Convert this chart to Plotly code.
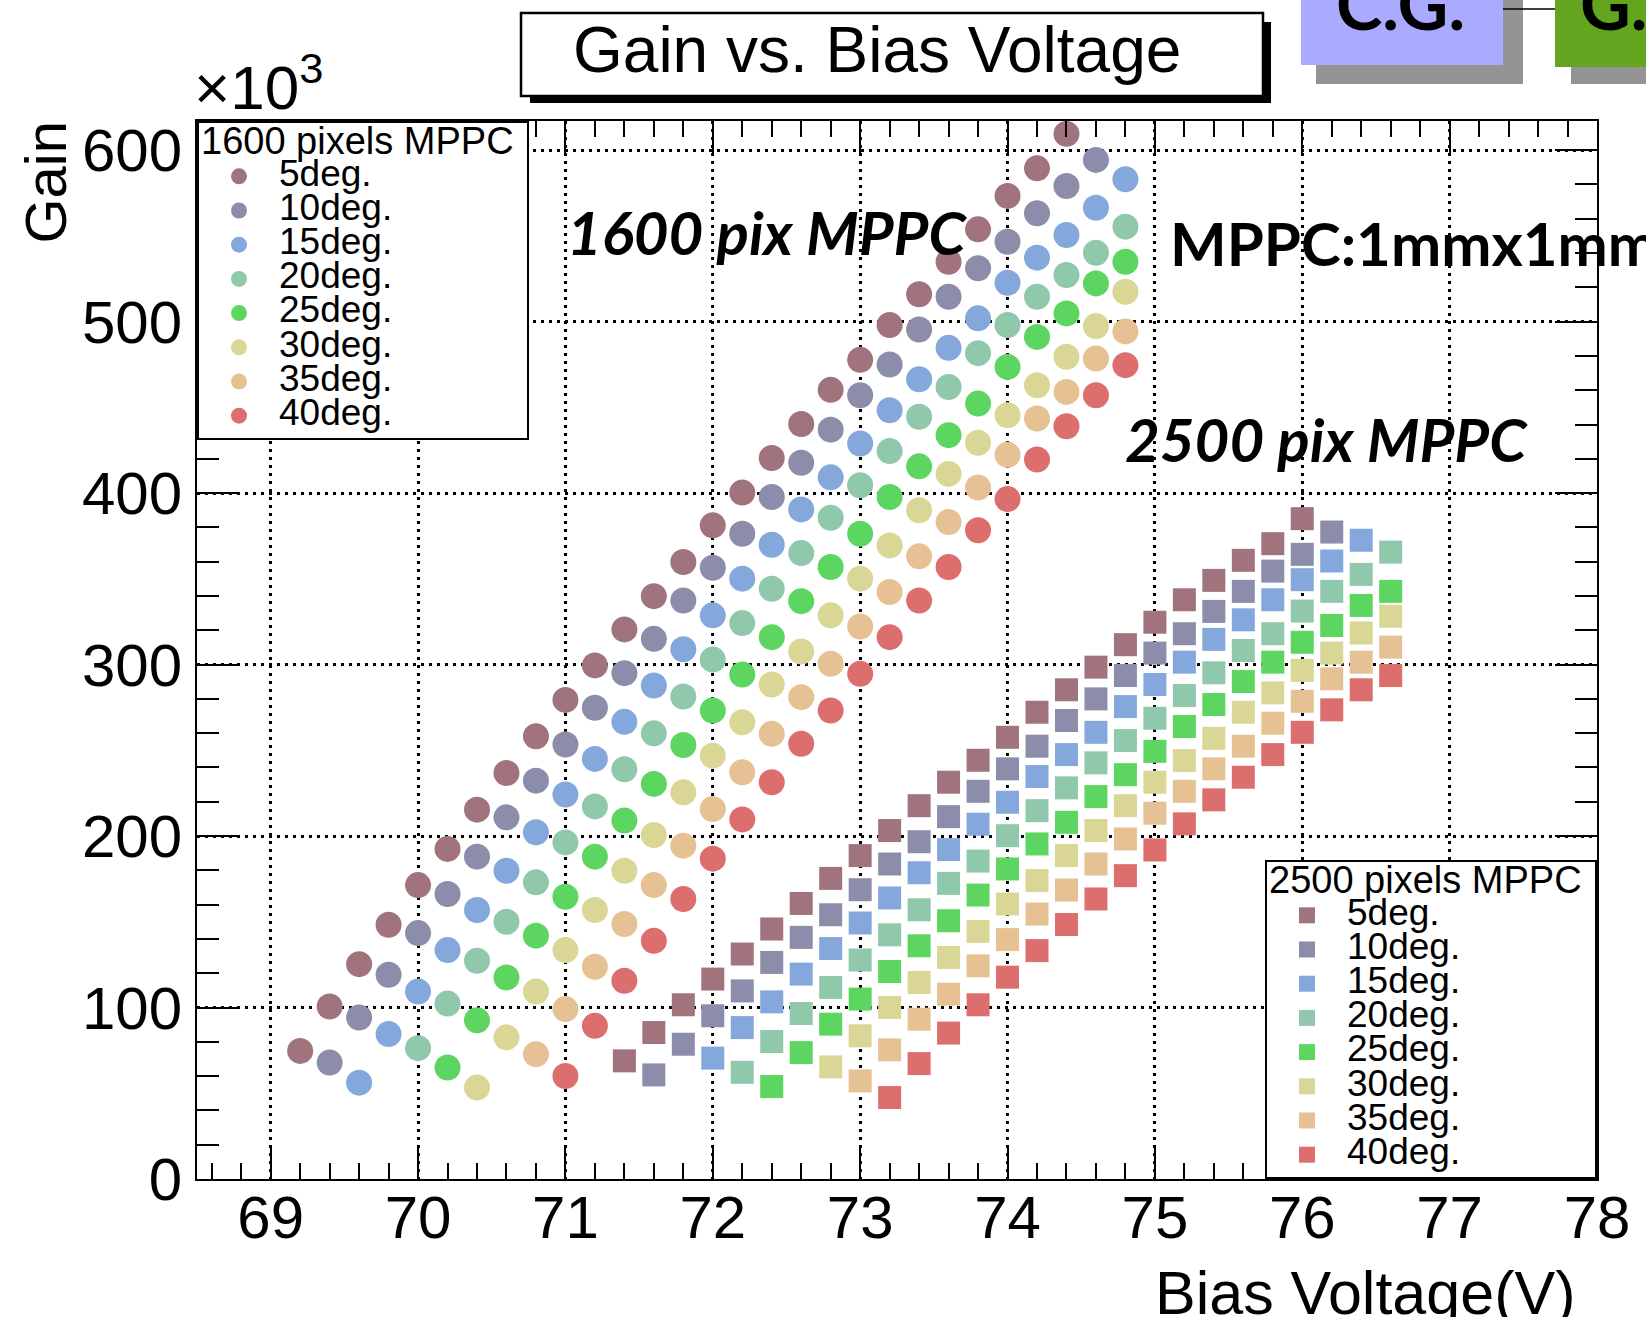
import plotly.graph_objects as go

# ---------------- data (gain in units of 10^3) ----------------
VOLTAGES = [69.2, 69.4, 69.6, 69.8, 70.0, 70.2, 70.4, 70.6, 70.8, 71.0,
            71.2, 71.4, 71.6, 71.8, 72.0, 72.2, 72.4, 72.6, 72.8, 73.0,
            73.2, 73.4, 73.6, 73.8, 74.0, 74.2, 74.4, 74.6, 74.8, 75.0,
            75.2, 75.4, 75.6, 75.8, 76.0, 76.2, 76.4, 76.6]

ANGLES = ["5deg.", "10deg.", "15deg.", "20deg.", "25deg.", "30deg.", "35deg.", "40deg."]
COLORS = ["#a0737d", "#8c8cab", "#84a8dc", "#90c8ac", "#5cd660", "#dad696", "#e6c193", "#dc6e6e"]

# 1600 pixel MPPC: first bias voltage of each scan, and gains
START_1600 = [69.2, 69.4, 69.6, 70.0, 70.2, 70.4, 70.8, 71.0]
GAIN_1600_5 = [74.7, 100.6, 125.3, 148.3, 171.4, 192.5, 215.4, 236.8, 258.2, 279.4, 299.5, 320.5, 339.9, 359.8,
               381.2, 400.3, 420.5, 440.3, 460.2, 477.7, 498.0, 516.0, 534.9, 553.8, 573.3, 589.4, 609.5]
GAIN_1600_10 = [67.9, 94.2, 119.1, 143.4, 166.2, 188.0, 210.9, 232.3, 253.4, 274.8, 295.0, 315.0, 337.4, 356.5,
                376.3, 397.7, 417.7, 437.0, 457.1, 475.0, 495.4, 514.5, 531.1, 546.6, 563.2, 579.1, 594.3]
GAIN_1600_15 = [56.2, 84.5, 109.3, 133.5, 156.9, 179.8, 202.2, 224.2, 245.0, 266.6, 287.8, 308.9, 328.7, 350.1,
                369.9, 390.5, 409.2, 428.9, 448.3, 466.4, 484.7, 501.9, 522.7, 537.3, 550.5, 566.4, 583.0]
GAIN_1600_20 = [76.3, 102.3, 127.3, 150.0, 173.0, 196.3, 217.3, 238.9, 259.9, 281.4, 302.9, 324.2, 344.2, 365.0,
                385.6, 404.6, 424.5, 444.5, 461.9, 481.6, 498.0, 514.5, 527.2, 540.2, 555.4]
GAIN_1600_25 = [65.0, 92.6, 117.5, 141.9, 164.6, 188.0, 209.0, 230.4, 253.1, 273.2, 294.2, 316.0, 337.0, 356.9,
                376.3, 397.7, 415.6, 433.8, 452.2, 473.6, 491.1, 504.8, 522.3, 534.9]
GAIN_1600_30 = [53.3, 82.6, 109.3, 133.5, 156.9, 179.8, 200.6, 225.5, 246.9, 266.4, 288.4, 307.6, 328.7, 350.1,
                369.5, 390.0, 411.2, 429.4, 445.4, 462.9, 479.5, 497.4, 517.4]
GAIN_1600_35 = [72.8, 99.1, 123.8, 148.7, 171.4, 194.4, 215.8, 237.2, 259.6, 281.0, 300.5, 322.2, 342.3, 363.1,
                383.1, 403.3, 422.3, 443.5, 459.0, 478.5, 494.3]
GAIN_1600_40 = [60.1, 89.3, 115.6, 138.9, 163.3, 186.8, 209.7, 231.4, 253.8, 273.2, 294.6, 316.0, 337.4, 356.9,
                378.3, 396.5, 419.6, 439.0, 457.1, 474.6]

# 2500 pixel MPPC
START_2500 = [71.4, 71.6, 72.0, 72.2, 72.4, 72.8, 73.0, 73.2]
GAIN_2500_5 = [68.9, 85.4, 101.6, 116.6, 131.2, 145.8, 160.7, 175.3, 188.6, 203.2, 217.7, 231.4, 244.2, 257.6,
               272.2, 285.3, 298.5, 311.6, 324.7, 337.8, 349.1, 360.8, 370.5, 385.1]
GAIN_2500_10 = [60.7, 78.6, 95.2, 109.7, 126.3, 140.9, 154.1, 168.7, 183.7, 196.7, 211.3, 226.1, 239.2, 252.4,
                267.4, 280.0, 293.6, 306.7, 318.0, 331.0, 342.7, 354.5, 364.3, 377.3]
GAIN_2500_15 = [70.5, 88.3, 103.3, 119.5, 134.4, 149.3, 163.9, 178.6, 192.1, 206.9, 219.7, 234.7, 247.5, 260.5,
                275.5, 288.4, 301.4, 314.7, 326.1, 337.8, 349.5, 360.4, 372.5]
GAIN_2500_20 = [62.2, 80.2, 96.5, 111.7, 127.7, 142.4, 157.0, 172.4, 185.4, 200.2, 214.8, 228.1, 242.7, 255.7,
                268.7, 282.0, 295.2, 308.2, 318.0, 331.2, 342.7, 352.6, 365.6]
GAIN_2500_25 = [53.9, 73.7, 90.3, 104.9, 121.0, 136.0, 150.6, 165.6, 180.8, 195.4, 208.0, 223.0, 235.8, 249.4,
                263.9, 276.7, 290.1, 301.4, 313.0, 322.8, 334.5, 342.7]
GAIN_2500_30 = [65.4, 83.5, 100.0, 114.6, 129.2, 144.4, 160.4, 174.0, 188.6, 203.2, 217.7, 231.4, 244.0, 257.0,
                272.2, 283.5, 296.6, 306.7, 318.4, 328.2]
GAIN_2500_35 = [57.2, 75.3, 93.2, 107.8, 124.3, 139.6, 154.5, 168.5, 183.7, 198.3, 213.3, 226.1, 239.2, 252.4,
                265.8, 278.6, 291.7, 301.4, 310.2]
GAIN_2500_40 = [47.5, 67.3, 85.1, 101.6, 117.7, 133.2, 148.4, 163.3, 176.9, 191.9, 207.1, 221.1, 234.3, 247.5,
                260.5, 273.6, 285.3, 293.6]

GAINS_1600 = [GAIN_1600_5, GAIN_1600_10, GAIN_1600_15, GAIN_1600_20,
              GAIN_1600_25, GAIN_1600_30, GAIN_1600_35, GAIN_1600_40]
GAINS_2500 = [GAIN_2500_5, GAIN_2500_10, GAIN_2500_15, GAIN_2500_20,
              GAIN_2500_25, GAIN_2500_30, GAIN_2500_35, GAIN_2500_40]

X_TICKS = [69, 70, 71, 72, 73, 74, 75, 76, 77, 78]
Y_TICKS = [0, 100, 200, 300, 400, 500, 600]


def volts_for(start, n):
    i = VOLTAGES.index(start)
    return VOLTAGES[i:i + n]


# ---------------- layout helpers (pixel -> paper) ----------------
W, H = 1646, 1317
PL, PR, PT, PB = 197, 1597, 121, 1179


def px(X):
    return (X - PL) / (PR - PL)


def py(Y):
    return (PB - Y) / (PB - PT)


FONT = "Liberation Sans, Arial, sans-serif"
BOLDFONT = "Lato, Open Sans, sans-serif"
LEG_SPAN = "<span style='font-size:37px'>%s</span>"
LEG_TITLE = "<span style='font-size:38px'>%s&nbsp;</span>"

fig = go.Figure()

for name, col, start, g in zip(ANGLES, COLORS, START_1600, GAINS_1600):
    fig.add_trace(go.Scatter(
        x=volts_for(start, len(g)), y=g, mode="markers", name=LEG_SPAN % name,
        marker=dict(symbol="circle", size=26, color=col, line=dict(width=0)),
        legend="legend"))

for name, col, start, g in zip(ANGLES, COLORS, START_2500, GAINS_2500):
    fig.add_trace(go.Scatter(
        x=volts_for(start, len(g)), y=g, mode="markers", name=LEG_SPAN % name,
        marker=dict(symbol="square", size=23, color=col, line=dict(width=0)),
        legend="legend2"))

axis_common = dict(
    showline=True, linecolor="black", linewidth=2, mirror="ticks",
    ticks="inside", tickcolor="black", tickwidth=2,
    showgrid=True, gridcolor="black", gridwidth=2.6, griddash="3px,5px",
    zeroline=False, tickfont=dict(family=FONT, size=60, color="black"),
)

fig.update_xaxes(range=[68.5, 78.0], tickvals=X_TICKS, ticktext=[str(v) for v in X_TICKS],
                 ticklen=33, ticklabelstandoff=-15,
                 minor=dict(dtick=0.2, tick0=69, ticks="inside", ticklen=16, tickwidth=2,
                            tickcolor="black", showgrid=False),
                 **axis_common)
fig.update_yaxes(range=[0, 617], tickvals=Y_TICKS, ticktext=[str(v) for v in Y_TICKS],
                 ticklen=42, ticklabelstandoff=1,
                 minor=dict(dtick=20, tick0=0, ticks="inside", ticklen=22, tickwidth=2,
                            tickcolor="black", showgrid=False),
                 **axis_common)

legend_common = dict(bgcolor="white", bordercolor="black", borderwidth=2,
                     font=dict(family=FONT, size=24, color="black"),
                     itemwidth=70, itemsizing="trace", tracegroupgap=0)

fig.update_layout(
    width=W, height=H,
    margin=dict(l=PL, r=W - PR, t=PT, b=H - PB),
    paper_bgcolor="white", plot_bgcolor="white",
    showlegend=True,
    legend=dict(x=0, y=1, xanchor="left", yanchor="top",
                title=dict(text=LEG_TITLE % "1600 pixels MPPC", font=dict(family=FONT, size=24)),
                **legend_common),
    legend2=dict(x=1, y=0, xanchor="right", yanchor="bottom",
                 title=dict(text=LEG_TITLE % "2500 pixels MPPC", font=dict(family=FONT, size=24)),
                 **legend_common),
)

shapes = [
    # title box with shadow
    dict(type="rect", xref="paper", yref="paper", x0=px(530), x1=px(1271), y0=py(103), y1=py(22),
         fillcolor="black", line=dict(width=0)),
    dict(type="rect", xref="paper", yref="paper", x0=px(521), x1=px(1263), y0=py(96), y1=py(13),
         fillcolor="white", line=dict(color="black", width=2.5)),
    # C.G. box
    dict(type="rect", xref="paper", yref="paper", x0=px(1316), x1=px(1523), y0=py(84), y1=py(-20),
         fillcolor="#949494", line=dict(width=0)),
    dict(type="rect", xref="paper", yref="paper", x0=px(1301), x1=px(1503), y0=py(65), y1=py(-20),
         fillcolor="#aaaaff", line=dict(width=0)),
    dict(type="line", xref="paper", yref="paper", x0=px(1503), x1=px(1555), y0=py(9), y1=py(9),
         line=dict(color="black", width=1.5)),
    # G. box
    dict(type="rect", xref="paper", yref="paper", x0=px(1571), x1=px(1700), y0=py(84), y1=py(-20),
         fillcolor="#949494", line=dict(width=0)),
    dict(type="rect", xref="paper", yref="paper", x0=px(1555), x1=px(1700), y0=py(67), y1=py(-20),
         fillcolor="#64a520", line=dict(width=0)),
]
fig.update_layout(shapes=shapes)

ann = [
    dict(text="Gain vs. Bias Voltage", x=px(877), y=py(50), xanchor="center", yanchor="middle",
         font=dict(family=FONT, size=64, color="black")),
    dict(text="×10<sup>3</sup>", x=px(192), y=py(124), xanchor="left", yanchor="bottom",
         font=dict(family=FONT, size=62, color="black")),
    dict(text="Gain", textangle=-90, x=px(45), y=py(119), xanchor="center", yanchor="top",
         font=dict(family=FONT, size=58, color="black")),
    dict(text="Bias Voltage(V)", x=px(1577), y=py(1293), xanchor="right", yanchor="middle",
         font=dict(family=FONT, size=61, color="black")),
    dict(text="<b><i>1600 pix MPPC</i></b>", x=px(767), y=py(232), xanchor="center", yanchor="middle",
         font=dict(family=BOLDFONT, size=60, color="black")),
    dict(text="<b><i>2500 pix MPPC</i></b>", x=px(1326), y=py(439), xanchor="center", yanchor="middle",
         font=dict(family=BOLDFONT, size=60, color="black")),
    dict(text="<b>MPPC:1mmx1mm</b>", x=px(1168), y=py(243), xanchor="left", yanchor="middle",
         font=dict(family=BOLDFONT, size=60, color="black")),
    dict(text="<b>C.G.</b>", x=px(1400), y=py(47), xanchor="center", yanchor="bottom",
         font=dict(family=BOLDFONT, size=70, color="black")),
    dict(text="<b>G.</b>", x=px(1578), y=py(47), xanchor="left", yanchor="bottom",
         font=dict(family=BOLDFONT, size=70, color="black")),
]
for a in ann:
    a.update(xref="paper", yref="paper", showarrow=False)
fig.update_layout(annotations=ann)

fig.write_html("out.html")
